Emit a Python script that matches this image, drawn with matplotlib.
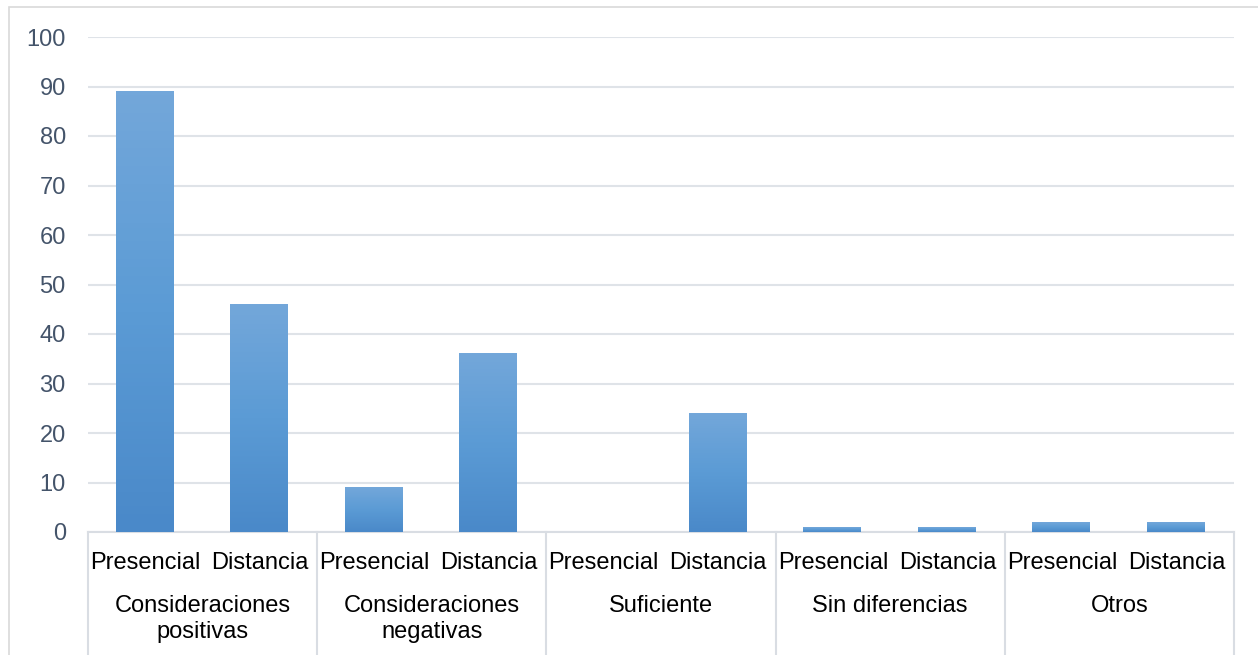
import numpy as np
import matplotlib.pyplot as plt
from matplotlib.colors import LinearSegmentedColormap

plt.rcParams['font.family'] = ['Liberation Sans', 'DejaVu Sans']

groups = ["Consideraciones\npositivas", "Consideraciones\nnegativas", "Suficiente",
          "Sin diferencias", "Otros"]
modes = ["Presencial", "Distancia"]
presencial = [89, 9, 0, 1, 2]
distancia = [46, 36, 24, 1, 2]
yticks = [0, 10, 20, 30, 40, 50, 60, 70, 80, 90, 100]

fig = plt.figure(figsize=(12.58, 6.55), dpi=100)
ax = fig.add_axes([88 / 1258, 1 - 532 / 655, (1234 - 88) / 1258, (532 - 37) / 655])

# outer chart frame
fig.patches.append(plt.Rectangle((9 / 1258, -0.1), 1.2, 1 - 7 / 655 + 0.1,
                                 transform=fig.transFigure, fill=False,
                                 edgecolor='#d9d9d9', linewidth=1.2))

values = []
for p, d in zip(presencial, distancia):
    values += [p, d]
n = len(values)
x = np.arange(n)
width = 0.5

grad = LinearSegmentedColormap.from_list('bar', ['#4a89c9', '#5b9bd5', '#73a7da'])
bars = ax.bar(x - 0.01, values, width=width, color='none', zorder=3)
for b in bars:
    h = b.get_height()
    if h <= 0:
        continue
    x0 = b.get_x()
    ax.imshow(np.linspace(0, 1, 100).reshape(-1, 1), cmap=grad, origin='lower',
              extent=[x0, x0 + b.get_width(), 0, h], aspect='auto', zorder=3)

ax.set_xlim(-0.5, n - 0.5)
ax.set_ylim(0, 100)
ax.set_yticks(yticks)
ax.grid(axis='y', color='#dfe3e8', linewidth=1.5, zorder=0)
for s in ['top', 'right', 'left']:
    ax.spines[s].set_visible(False)
ax.spines['bottom'].set_color('#d9dde3')
ax.spines['bottom'].set_linewidth(1.5)
ax.tick_params(axis='y', length=0, labelsize=17, labelcolor='#44546a', pad=16)
ax.tick_params(axis='x', length=0)
ax.set_xticks(x)
ax.set_xticklabels(modes * len(groups), fontsize=17, color='black')
ax.tick_params(axis='x', pad=14.5)

# group labels and separators under the axis
for i, g in enumerate(groups):
    ax.annotate(g, xy=(2 * i + 0.5, 0), xycoords=('data', 'axes fraction'),
                xytext=(0, -63), textcoords='offset pixels',
                ha='center', va='top', fontsize=17, linespacing=1.25)
trans = ax.get_xaxis_transform()
for k in range(len(groups) + 1):
    ax.plot([2 * k - 0.5, 2 * k - 0.5], [0, -0.4], transform=trans,
            color='#d9dde3', linewidth=1.5, clip_on=False)

fig.savefig('out.png', dpi=100)
